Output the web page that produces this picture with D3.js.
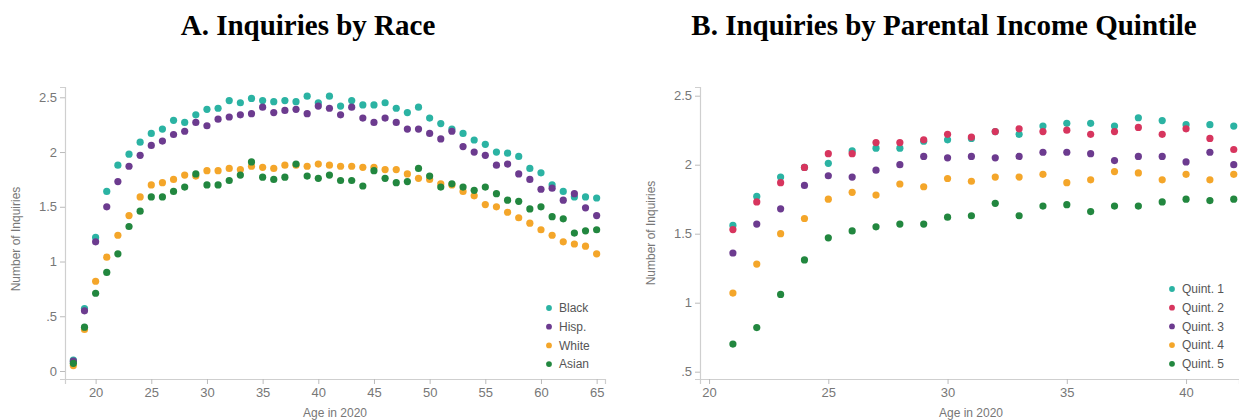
<!DOCTYPE html>
<html>
<head>
<meta charset="utf-8">
<script src="https://cdn.jsdelivr.net/npm/d3@7"></script>
<style>
  html, body { margin: 0; padding: 0; background: #fff; }
  svg { display: block; }
  .title { font-family: "Liberation Serif", "Times New Roman", serif; font-weight: bold; font-size: 29px; fill: #000; }
  .tick text { font-family: "Liberation Sans", Arial, sans-serif; font-size: 13px; fill: #777; }
  .axis-title { font-family: "Liberation Sans", Arial, sans-serif; font-size: 12px; fill: #777; }
  .legend text { font-family: "Liberation Sans", Arial, sans-serif; font-size: 12px; fill: #555; }
</style>
</head>
<body>
<svg id="chart" width="1239" height="420"></svg>
<script>
// Panel A: average inquiries by age, by race
const raceAges = d3.range(18, 66);
const raceNames = ["Black", "Hisp.", "White", "Asian"];
const raceColors = ["#2bb3a3", "#6c3b8f", "#f4a62a", "#22873f"];
const black = [0.10, 0.57, 1.22, 1.64, 1.88, 1.98, 2.09, 2.17, 2.21, 2.29, 2.27, 2.34, 2.39, 2.40, 2.47, 2.45,
  2.49, 2.47, 2.46, 2.47, 2.46, 2.51, 2.45, 2.51, 2.42, 2.47, 2.43, 2.43, 2.45, 2.40, 2.36, 2.41,
  2.31, 2.26, 2.21, 2.17, 2.11, 2.07, 2.00, 1.99, 1.96, 1.85, 1.81, 1.70, 1.64, 1.59, 1.59, 1.58];
const hisp = [0.09, 0.55, 1.18, 1.50, 1.73, 1.87, 1.97, 2.06, 2.10, 2.16, 2.19, 2.27, 2.24, 2.30, 2.32, 2.34,
  2.35, 2.41, 2.36, 2.38, 2.39, 2.35, 2.42, 2.40, 2.34, 2.41, 2.31, 2.27, 2.31, 2.27, 2.21, 2.21,
  2.17, 2.12, 2.19, 2.05, 2.00, 1.97, 1.88, 1.89, 1.80, 1.75, 1.66, 1.67, 1.56, 1.62, 1.49, 1.42];
const white = [0.05, 0.38, 0.82, 1.04, 1.24, 1.42, 1.59, 1.70, 1.72, 1.75, 1.79, 1.78, 1.83, 1.83, 1.85, 1.84,
  1.87, 1.86, 1.85, 1.88, 1.88, 1.87, 1.89, 1.88, 1.87, 1.87, 1.86, 1.86, 1.84, 1.84, 1.80, 1.76,
  1.75, 1.71, 1.70, 1.64, 1.60, 1.52, 1.50, 1.45, 1.40, 1.35, 1.29, 1.24, 1.18, 1.16, 1.14, 1.07];
const asian = [0.07, 0.40, 0.71, 0.90, 1.07, 1.32, 1.46, 1.59, 1.59, 1.64, 1.68, 1.80, 1.70, 1.70, 1.74, 1.79,
  1.91, 1.77, 1.75, 1.77, 1.89, 1.78, 1.76, 1.79, 1.74, 1.74, 1.69, 1.83, 1.76, 1.72, 1.73, 1.85,
  1.78, 1.68, 1.71, 1.68, 1.65, 1.68, 1.62, 1.56, 1.55, 1.48, 1.50, 1.41, 1.39, 1.26, 1.28, 1.29];
const raceTicksX = [20, 25, 30, 35, 40, 45, 50, 55, 60, 65];
const raceTicksY = [0, 0.5, 1, 1.5, 2, 2.5];

// Panel B: average inquiries by age, by parental income quintile
const quintAges = d3.range(21, 43);
const quintNames = ["Quint. 1", "Quint. 2", "Quint. 3", "Quint. 4", "Quint. 5"];
const quintColors = ["#2bb3a3", "#d7355e", "#6c3b8f", "#f4a62a", "#22873f"];
const quint1 = [1.56, 1.77, 1.91, 1.98, 2.01, 2.10, 2.12, 2.12, 2.17, 2.18, 2.19, 2.24, 2.22, 2.28, 2.30,
  2.30, 2.28, 2.34, 2.32, 2.29, 2.29, 2.28];
const quint2 = [1.53, 1.73, 1.87, 1.98, 2.08, 2.08, 2.16, 2.16, 2.18, 2.22, 2.20, 2.24, 2.26, 2.24, 2.25,
  2.22, 2.24, 2.27, 2.22, 2.26, 2.19, 2.11];
const quint3 = [1.36, 1.57, 1.68, 1.85, 1.92, 1.91, 1.96, 2.00, 2.06, 2.05, 2.06, 2.05, 2.06, 2.09, 2.09,
  2.08, 2.03, 2.06, 2.06, 2.02, 2.09, 2.00];
const quint4 = [1.07, 1.28, 1.50, 1.61, 1.75, 1.80, 1.78, 1.86, 1.84, 1.90, 1.88, 1.91, 1.91, 1.93, 1.87,
  1.89, 1.95, 1.94, 1.89, 1.93, 1.89, 1.93];
const quint5 = [0.70, 0.82, 1.06, 1.31, 1.47, 1.52, 1.55, 1.57, 1.57, 1.62, 1.63, 1.72, 1.63, 1.70, 1.71,
  1.66, 1.70, 1.70, 1.73, 1.75, 1.74, 1.75];
const quintTicksX = [20, 25, 30, 35, 40];
const quintTicksY = [0.5, 1, 1.5, 2, 2.5];

const svg = d3.select("#chart");

function fmtTick(v) {
  if (v === 0) return "0";
  const s = String(v);
  return s.startsWith("0.") ? s.slice(1) : s;
}

function drawPanel(cfg) {
  const g = svg.append("g");
  const x = d3.scaleLinear().domain(cfg.xDomain).range([cfg.left, cfg.right]);
  const y = d3.scaleLinear().domain(cfg.yDomain).range([cfg.bottom, cfg.top]);

  g.append("text").attr("class", "title")
    .attr("x", cfg.titleX).attr("y", 35).attr("text-anchor", "middle").text(cfg.title);

  const xAxis = g.append("g").attr("transform", `translate(0,${cfg.bottom})`)
    .call(d3.axisBottom(x).tickValues(cfg.xTicks).tickSize(5).tickPadding(4).tickFormat(d3.format("d")));
  const yAxis = g.append("g").attr("transform", `translate(${cfg.left},0)`)
    .call(d3.axisLeft(y).tickValues(cfg.yTicks).tickSize(5).tickPadding(3).tickFormat(fmtTick));
  [xAxis, yAxis].forEach(a => {
    a.select(".domain").attr("stroke", "#cfcfcf").attr("stroke-width", 1.2);
    a.selectAll(".tick line").attr("stroke", "#bbb");
  });

  g.append("text").attr("class", "axis-title")
    .attr("x", cfg.xTitleX).attr("y", 417).attr("text-anchor", "middle").text("Age in 2020");
  g.append("text").attr("class", "axis-title")
    .attr("transform", `translate(${cfg.yTitleX},${cfg.yTitleY}) rotate(-90)`)
    .attr("text-anchor", "middle").text("Number of Inquiries");

  cfg.series.forEach((vals, i) => {
    g.append("g").selectAll("circle")
      .data(vals.map((v, j) => ({ age: cfg.ages[j], v })))
      .join("circle")
      .attr("cx", d => x(d.age))
      .attr("cy", d => y(d.v))
      .attr("r", 3.6)
      .attr("fill", cfg.colors[i]);
  });

  const lg = g.append("g").attr("class", "legend");
  cfg.names.forEach((n, i) => {
    const yy = cfg.legendY + i * 18.7;
    lg.append("circle").attr("cx", cfg.legendX).attr("cy", yy).attr("r", 2.9).attr("fill", cfg.colors[i]);
    lg.append("text").attr("x", cfg.legendX + 10).attr("y", yy).attr("dy", "0.35em").text(n);
  });
}

drawPanel({
  title: "A. Inquiries by Race", titleX: 308,
  left: 65, right: 605, top: 87, bottom: 379,
  xDomain: [17.25, 65.75], yDomain: [-0.073, 2.594],
  xTicks: raceTicksX, yTicks: raceTicksY,
  ages: raceAges, series: [black, hisp, white, asian],
  names: raceNames, colors: raceColors,
  legendX: 549, legendY: 308,
  xTitleX: 335, yTitleX: 20, yTitleY: 239
});

drawPanel({
  title: "B. Inquiries by Parental Income Quintile", titleX: 944,
  left: 700, right: 1239, top: 87, bottom: 379,
  xDomain: [19.62, 42.22], yDomain: [0.447, 2.563],
  xTicks: quintTicksX, yTicks: quintTicksY,
  ages: quintAges, series: [quint1, quint2, quint3, quint4, quint5],
  names: quintNames, colors: quintColors,
  legendX: 1172, legendY: 289,
  xTitleX: 971, yTitleX: 655, yTitleY: 233
});
</script>
</body>
</html>
